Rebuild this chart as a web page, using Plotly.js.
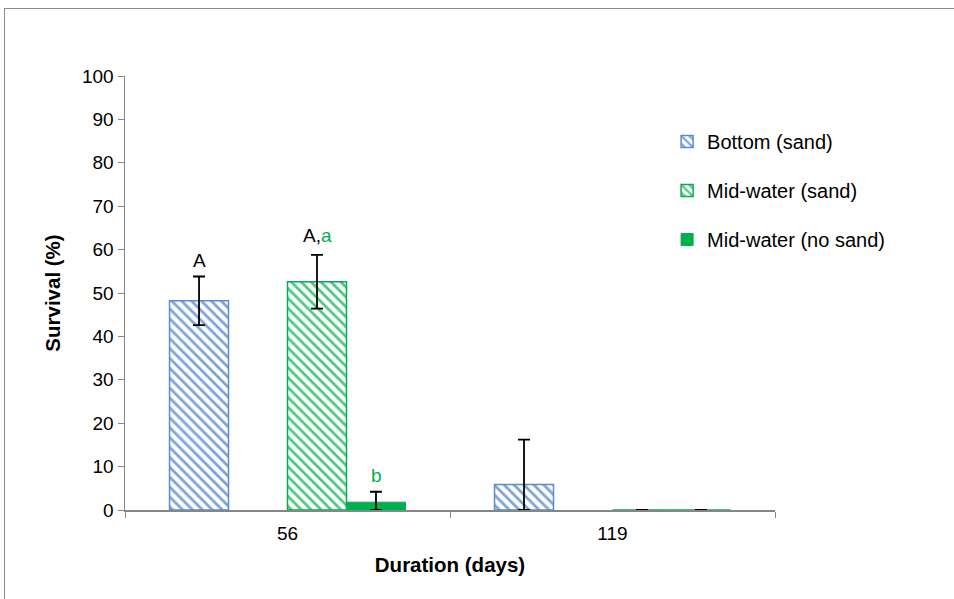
<!DOCTYPE html>
<html><head><meta charset="utf-8">
<script src="https://cdn.plot.ly/plotly-3.0.1.min.js"></script>
<style>
body{margin:0;padding:0;background:#fff;}
#wrap{position:relative;width:954px;height:599px;overflow:hidden;}
#chart{position:absolute;left:0;top:0;width:954px;height:599px;}
#frame{position:absolute;left:4px;top:8px;width:980px;height:620px;border:1.5px solid #8c8c8c;pointer-events:none;}
</style></head>
<body><div id="wrap"><div id="chart"></div><div id="frame"></div></div>
<script>
var categories = ["56", "119"];
var bottomSand = [48.2, 5.9];
var bottomSandErrPlus = [5.6, 10.3];
var bottomSandErrMinus = [5.6, 5.9];
var emptySlot = [null, null];
var midSand = [52.6, 0];
var midSandErrPlus = [6.2, 0];
var midSandErrMinus = [6.2, 0];
var midNoSand = [1.8, 0];
var midNoSandErrPlus = [2.4, 0];
var midNoSandErrMinus = [1.8, 0];
var yTicks = [0,10,20,30,40,50,60,70,80,90,100];

var blue = '#5b8bd0', green = '#00b050';
var font = 'Liberation Sans, Arial, sans-serif';
function eb(p, m){return {type:'data', symmetric:false, array:p, arrayminus:m, color:'#000', thickness:1.8, width:6};}

var traces = [
 {type:'bar', name:'Bottom (sand)', legendgroup:'g1', x:categories, y:bottomSand, error_y:eb(bottomSandErrPlus,bottomSandErrMinus),
  marker:{color:'#ffffff', line:{color:blue, width:1.5}, pattern:{shape:'\\', fgcolor:'#7ea3d8', bgcolor:'#ffffff', size:7, solidity:0.4}}},
 {type:'bar', name:'', x:categories, y:emptySlot, showlegend:false, hoverinfo:'skip', marker:{color:'rgba(0,0,0,0)'}},
 {type:'bar', name:'Mid-water (sand)', legendgroup:'g2', x:categories, y:midSand, error_y:eb(midSandErrPlus,midSandErrMinus),
  marker:{color:'#ffffff', line:{color:green, width:1.5}, pattern:{shape:'\\', fgcolor:'#4cc97f', bgcolor:'#ffffff', size:7, solidity:0.4}}},
 {type:'bar', name:'Mid-water (no sand)', legendgroup:'g3', x:categories, y:midNoSand, error_y:eb(midNoSandErrPlus,midNoSandErrMinus),
  marker:{color:green, line:{color:green, width:1}}}
];

var layout = {
 width:954, height:599, paper_bgcolor:'#fff', plot_bgcolor:'#fff',
 margin:{l:125, r:179, t:76, b:89, autoexpand:false},
 font:{family:font, size:18, color:'#000'},
 barmode:'group', bargap:0.274, bargroupgap:0,
 showlegend:true,
 legend:{x:0.834, y:0.894, xanchor:'left', yanchor:'top', font:{size:20, family:font}, traceorder:'grouped', tracegroupgap:20, itemwidth:30, bgcolor:'rgba(0,0,0,0)'},
 xaxis:{type:'category', range:[-0.5,1.5], showline:true, linecolor:'#868686', linewidth:1.5, ticks:'outside', tickson:'boundaries', ticklen:6, tickcolor:'#868686',
   ticklabelstandoff:6, tickangle:0, tickfont:{size:19, family:font}, title:{text:'<b>Duration (days)</b>', font:{size:20.5, family:font}, standoff:14}, showgrid:false, zeroline:false},
 yaxis:{range:[0,100], tickvals:yTicks, showline:true, linecolor:'#868686', linewidth:1.5, ticks:'outside', ticklen:6, tickcolor:'#868686',
   tickfont:{size:19, family:font}, title:{text:'<b>Survival (%)</b>', font:{size:20.5, family:font}, standoff:16}, showgrid:false, zeroline:false},
 annotations:[
  {xref:'x', yref:'y', x:0, y:bottomSand[0]+bottomSandErrPlus[0], xshift:-88, yshift:4, yanchor:'bottom', text:'A', showarrow:false, font:{size:19, color:'#000'}},
  {xref:'x', yref:'y', x:0, y:midSand[0]+midSandErrPlus[0], xshift:30, yshift:7, yanchor:'bottom', text:'A,<span style="color:#00b050">a</span>', showarrow:false, font:{size:19, color:'#000'}},
  {xref:'x', yref:'y', x:0, y:midNoSand[0]+midNoSandErrPlus[0], xshift:89, yshift:4, yanchor:'bottom', text:'b', showarrow:false, font:{size:19, color:green}}
 ]
};
Plotly.newPlot('chart', traces, layout, {displayModeBar:false, staticPlot:true});
</script></body></html>
